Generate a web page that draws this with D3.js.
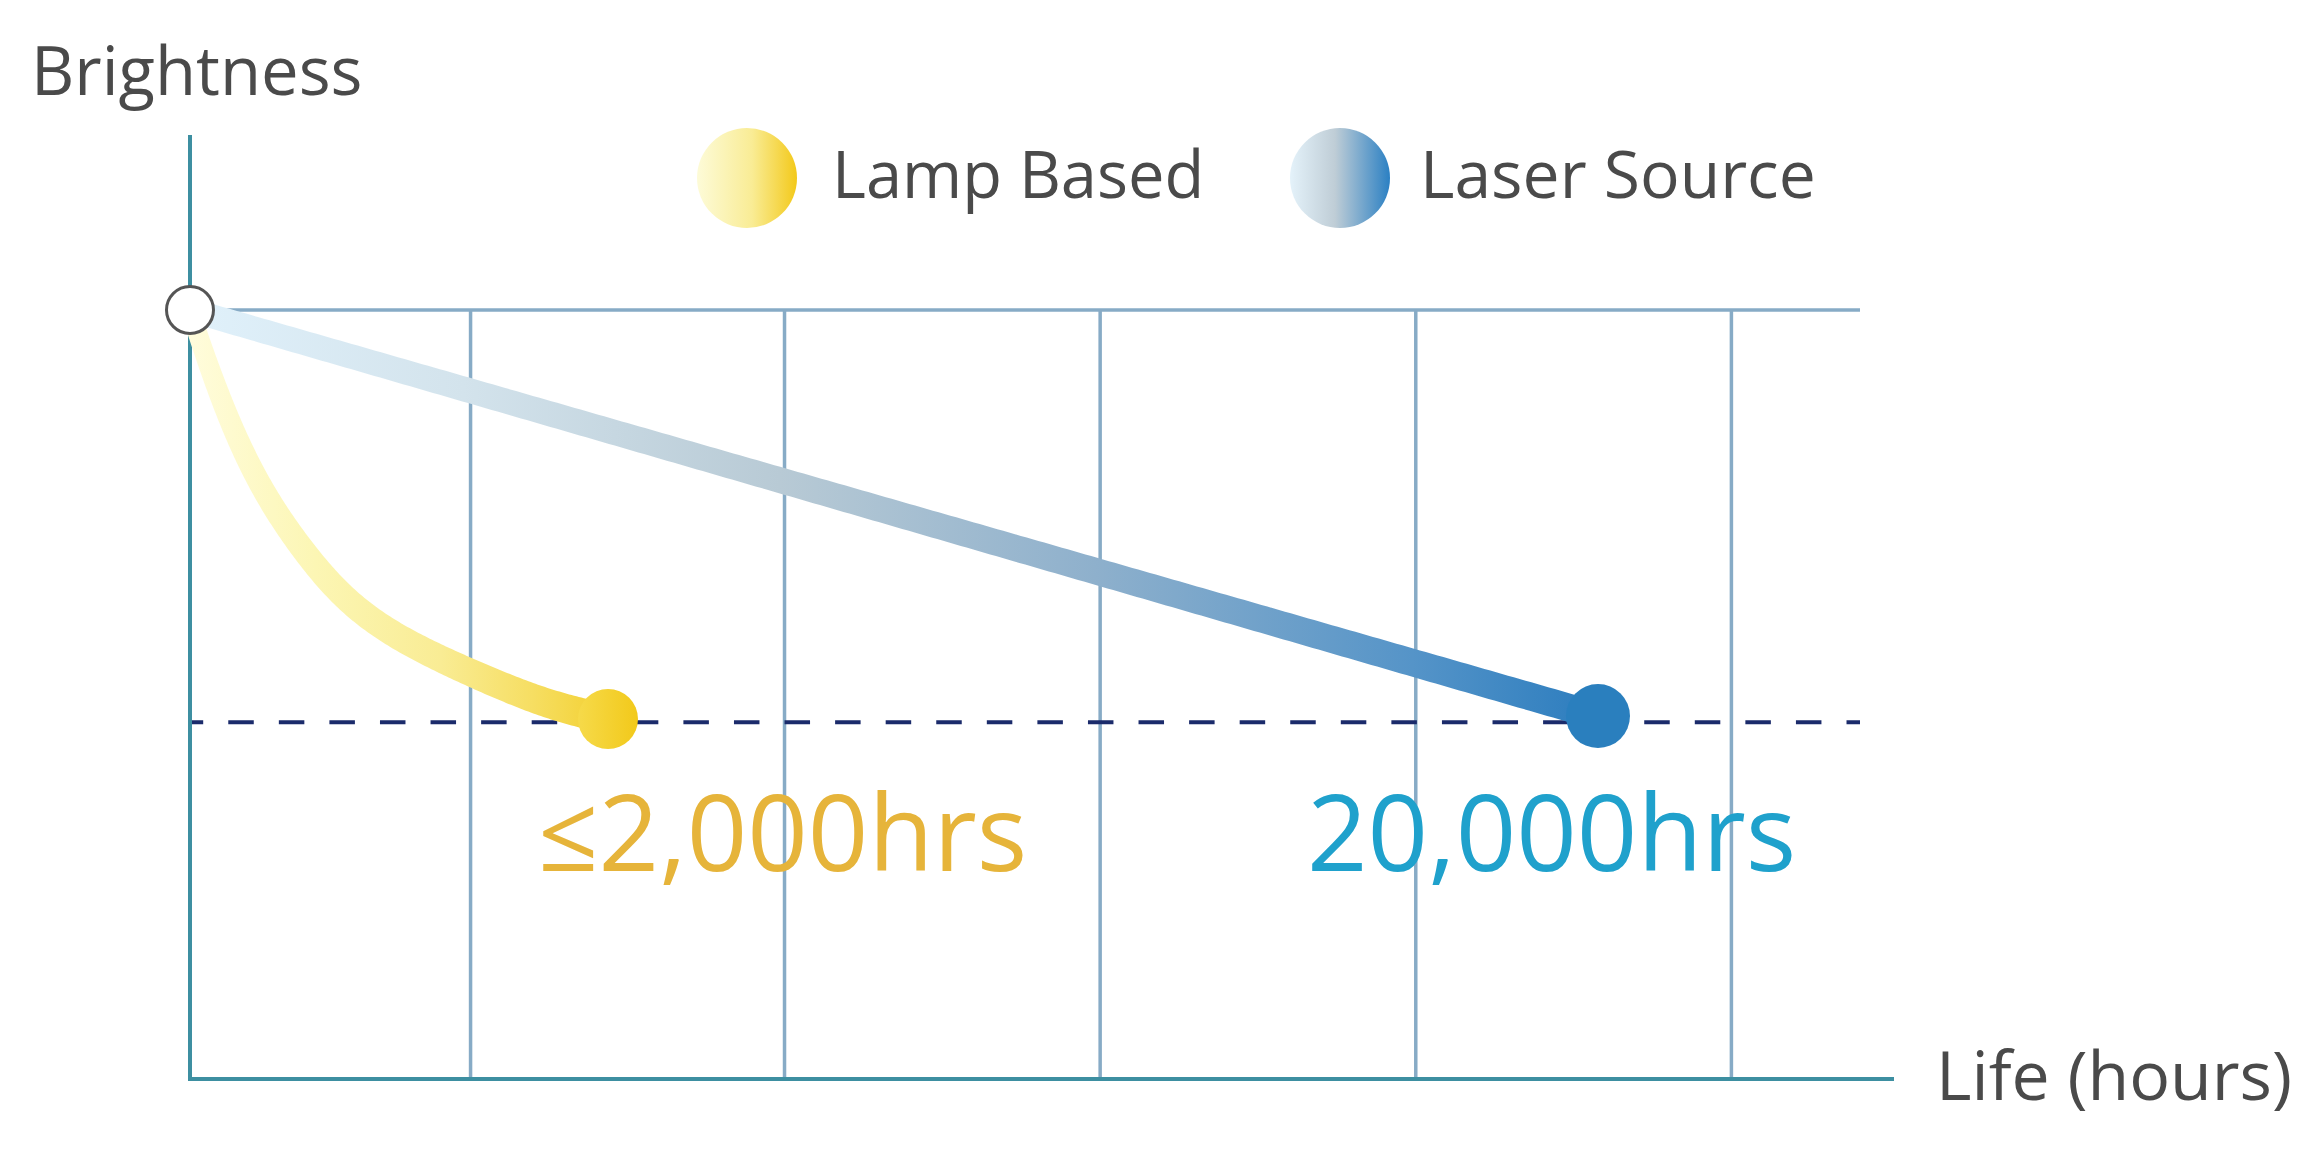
<!DOCTYPE html>
<html>
<head>
<meta charset="utf-8">
<script src="https://cdn.jsdelivr.net/npm/d3@7"></script>
<style>
  html, body { margin: 0; padding: 0; background: #ffffff; }
  svg { display: block; }
  text { font-family: "Open Sans", "Noto Sans", sans-serif; }
</style>
</head>
<body>
<svg id="chart" width="2306" height="1155"></svg>
<script>
// ---- data (schematic units: x 0..100 along life axis, y 0..100 brightness) ----
const gridX = [16.8, 35.6, 54.5, 73.4, 92.3];
const thresholdY = 46.4;
const lampX = [0, 0.78, 1.86, 3.11, 4.67, 6.71, 9.22, 12.34, 16.77, 21.38, 25.03];
const lampY = [100, 94.8, 88.3, 81.79, 75.29, 68.79, 62.29, 57.35, 52.8, 48.63, 46.81];
const laserX = [0, 84.31];
const laserY = [100, 47.2];
const seriesNames = ["Lamp Based", "Laser Source"];
const endLabels = ["\u22642,000hrs", "20,000hrs"];
const axisTitles = ["Brightness", "Life (hours)"];

const svg = d3.select("#chart");
const x = d3.scaleLinear().domain([0, 100]).range([190, 1860]);
const y = d3.scaleLinear().domain([0, 100]).range([1079, 310]);

const defs = svg.append("defs");
function grad(id, x1, x2, stops, units) {
  const g = defs.append("linearGradient").attr("id", id);
  if (units) g.attr("gradientUnits", "userSpaceOnUse").attr("x1", x1).attr("x2", x2).attr("y1", 0).attr("y2", 0);
  else g.attr("x1", "0%").attr("x2", "100%").attr("y1", "0%").attr("y2", "0%");
  stops.forEach(s => g.append("stop").attr("offset", s[0]).attr("stop-color", s[1]));
}
grad("lampG", x(0), x(25.03), [[0, "#fffcdc"], [0.3, "#fcf6b4"], [0.6, "#f9ec94"], [0.82, "#f6de62"], [1, "#f3d030"]], true);
grad("laserG", x(0), x(84.31) + 30, [[0, "#e0f1fb"], [0.19, "#d3e3ec"], [0.41, "#b8cad5"], [0.63, "#8eb0cc"], [0.85, "#5594c8"], [1, "#2579bd"]], true);
grad("lampLeg", 0, 0, [[0, "#fdfbd8"], [0.55, "#f9ec95"], [1, "#f3c91a"]], false);
grad("lampEnd", 0, 0, [[0, "#f6da4a"], [1, "#f2c91a"]], false);
grad("laserLeg", 0, 0, [[0, "#e4f2fa"], [0.45, "#bfcdd6"], [1, "#2b80c3"]], false);

// ---- grid ----
const grid = svg.append("g").attr("stroke", "#87abc6").attr("stroke-width", 3.5);
grid.append("line").attr("x1", x(0)).attr("x2", x(100)).attr("y1", y(100)).attr("y2", y(100));
grid.selectAll("line.v").data(gridX).join("line").attr("class", "v")
  .attr("x1", d => x(d)).attr("x2", d => x(d)).attr("y1", y(100)).attr("y2", y(0));

// ---- axes ----
const ax = svg.append("g").attr("stroke", "#3d8fa1").attr("stroke-width", 4);
ax.append("line").attr("x1", x(0)).attr("x2", x(0)).attr("y1", 135).attr("y2", y(0) + 2);
ax.append("line").attr("x1", x(0) - 2).attr("x2", 1894).attr("y1", y(0)).attr("y2", y(0));

// ---- threshold dashed line ----
svg.append("line").attr("x1", x(0) + 2).attr("x2", x(100)).attr("y1", y(thresholdY)).attr("y2", y(thresholdY))
  .attr("stroke", "#1b2b6b").attr("stroke-width", 4).attr("stroke-dasharray", "25.5 25.07").attr("stroke-dashoffset", 14.3);

// ---- tapered band helper ----
function taperBand(pathD, w0, w1, fill) {
  const tmp = svg.append("path").attr("d", pathD).attr("fill", "none").attr("stroke", "none");
  const node = tmp.node();
  const L = node.getTotalLength();
  const n = 240;
  const left = [], right = [];
  for (let i = 0; i <= n; i++) {
    const l = L * i / n;
    const p = node.getPointAtLength(l);
    const pa = node.getPointAtLength(Math.max(0, l - 2));
    const pb = node.getPointAtLength(Math.min(L, l + 2));
    let dx = pb.x - pa.x, dy = pb.y - pa.y;
    const m = Math.hypot(dx, dy) || 1; dx /= m; dy /= m;
    const w = (w0 + (w1 - w0) * i / n) / 2;
    left.push([p.x - dy * w, p.y + dx * w]);
    right.push([p.x + dy * w, p.y - dx * w]);
  }
  tmp.remove();
  const poly = left.concat(right.reverse());
  svg.append("path").attr("d", "M" + poly.map(p => p.join(",")).join("L") + "Z").attr("fill", fill);
}

const lampPts = lampX.map((v, i) => [x(v), y(lampY[i])]);
const laserPts = laserX.map((v, i) => [x(v), y(laserY[i])]);

taperBand(d3.line()(laserPts), 24, 28, "url(#laserG)");
taperBand(d3.line().curve(d3.curveBasis)(lampPts), 19, 30, "url(#lampG)");

// end points
const lampEnd = lampPts[lampPts.length - 1];
const laserEnd = laserPts[laserPts.length - 1];
svg.append("circle").attr("cx", lampEnd[0]).attr("cy", lampEnd[1]).attr("r", 30).attr("fill", "url(#lampEnd)");
svg.append("circle").attr("cx", laserEnd[0]).attr("cy", laserEnd[1]).attr("r", 32).attr("fill", "#2a7fbe");

// start point
svg.append("circle").attr("cx", x(0)).attr("cy", y(100)).attr("r", 23.5)
  .attr("fill", "#ffffff").attr("stroke", "#555555").attr("stroke-width", 3);

// ---- end labels ----
svg.append("text").attr("x", 538).attr("y", 871).attr("font-size", 106).attr("fill", "#e6b43a").text(endLabels[0]);
svg.append("text").attr("x", 1307).attr("y", 871).attr("font-size", 106).attr("fill", "#1fa1cc").text(endLabels[1]);

// ---- axis titles ----
svg.append("text").attr("x", 31).attr("y", 95).attr("font-size", 67).attr("fill", "#4a4a4a").text(axisTitles[0]);
svg.append("text").attr("x", 1936).attr("y", 1100).attr("font-size", 68).attr("fill", "#4a4a4a").text(axisTitles[1]);

// ---- legend ----
const legend = [
  { cx: 747, tx: 832, size: 65, fill: "url(#lampLeg)" },
  { cx: 1340, tx: 1420, size: 66, fill: "url(#laserLeg)" }
];
legend.forEach((l, i) => {
  svg.append("circle").attr("cx", l.cx).attr("cy", 178).attr("r", 50).attr("fill", l.fill);
  svg.append("text").attr("x", l.tx).attr("y", 198).attr("font-size", l.size).attr("fill", "#4a4a4a").text(seriesNames[i]);
});
</script>
</body>
</html>
